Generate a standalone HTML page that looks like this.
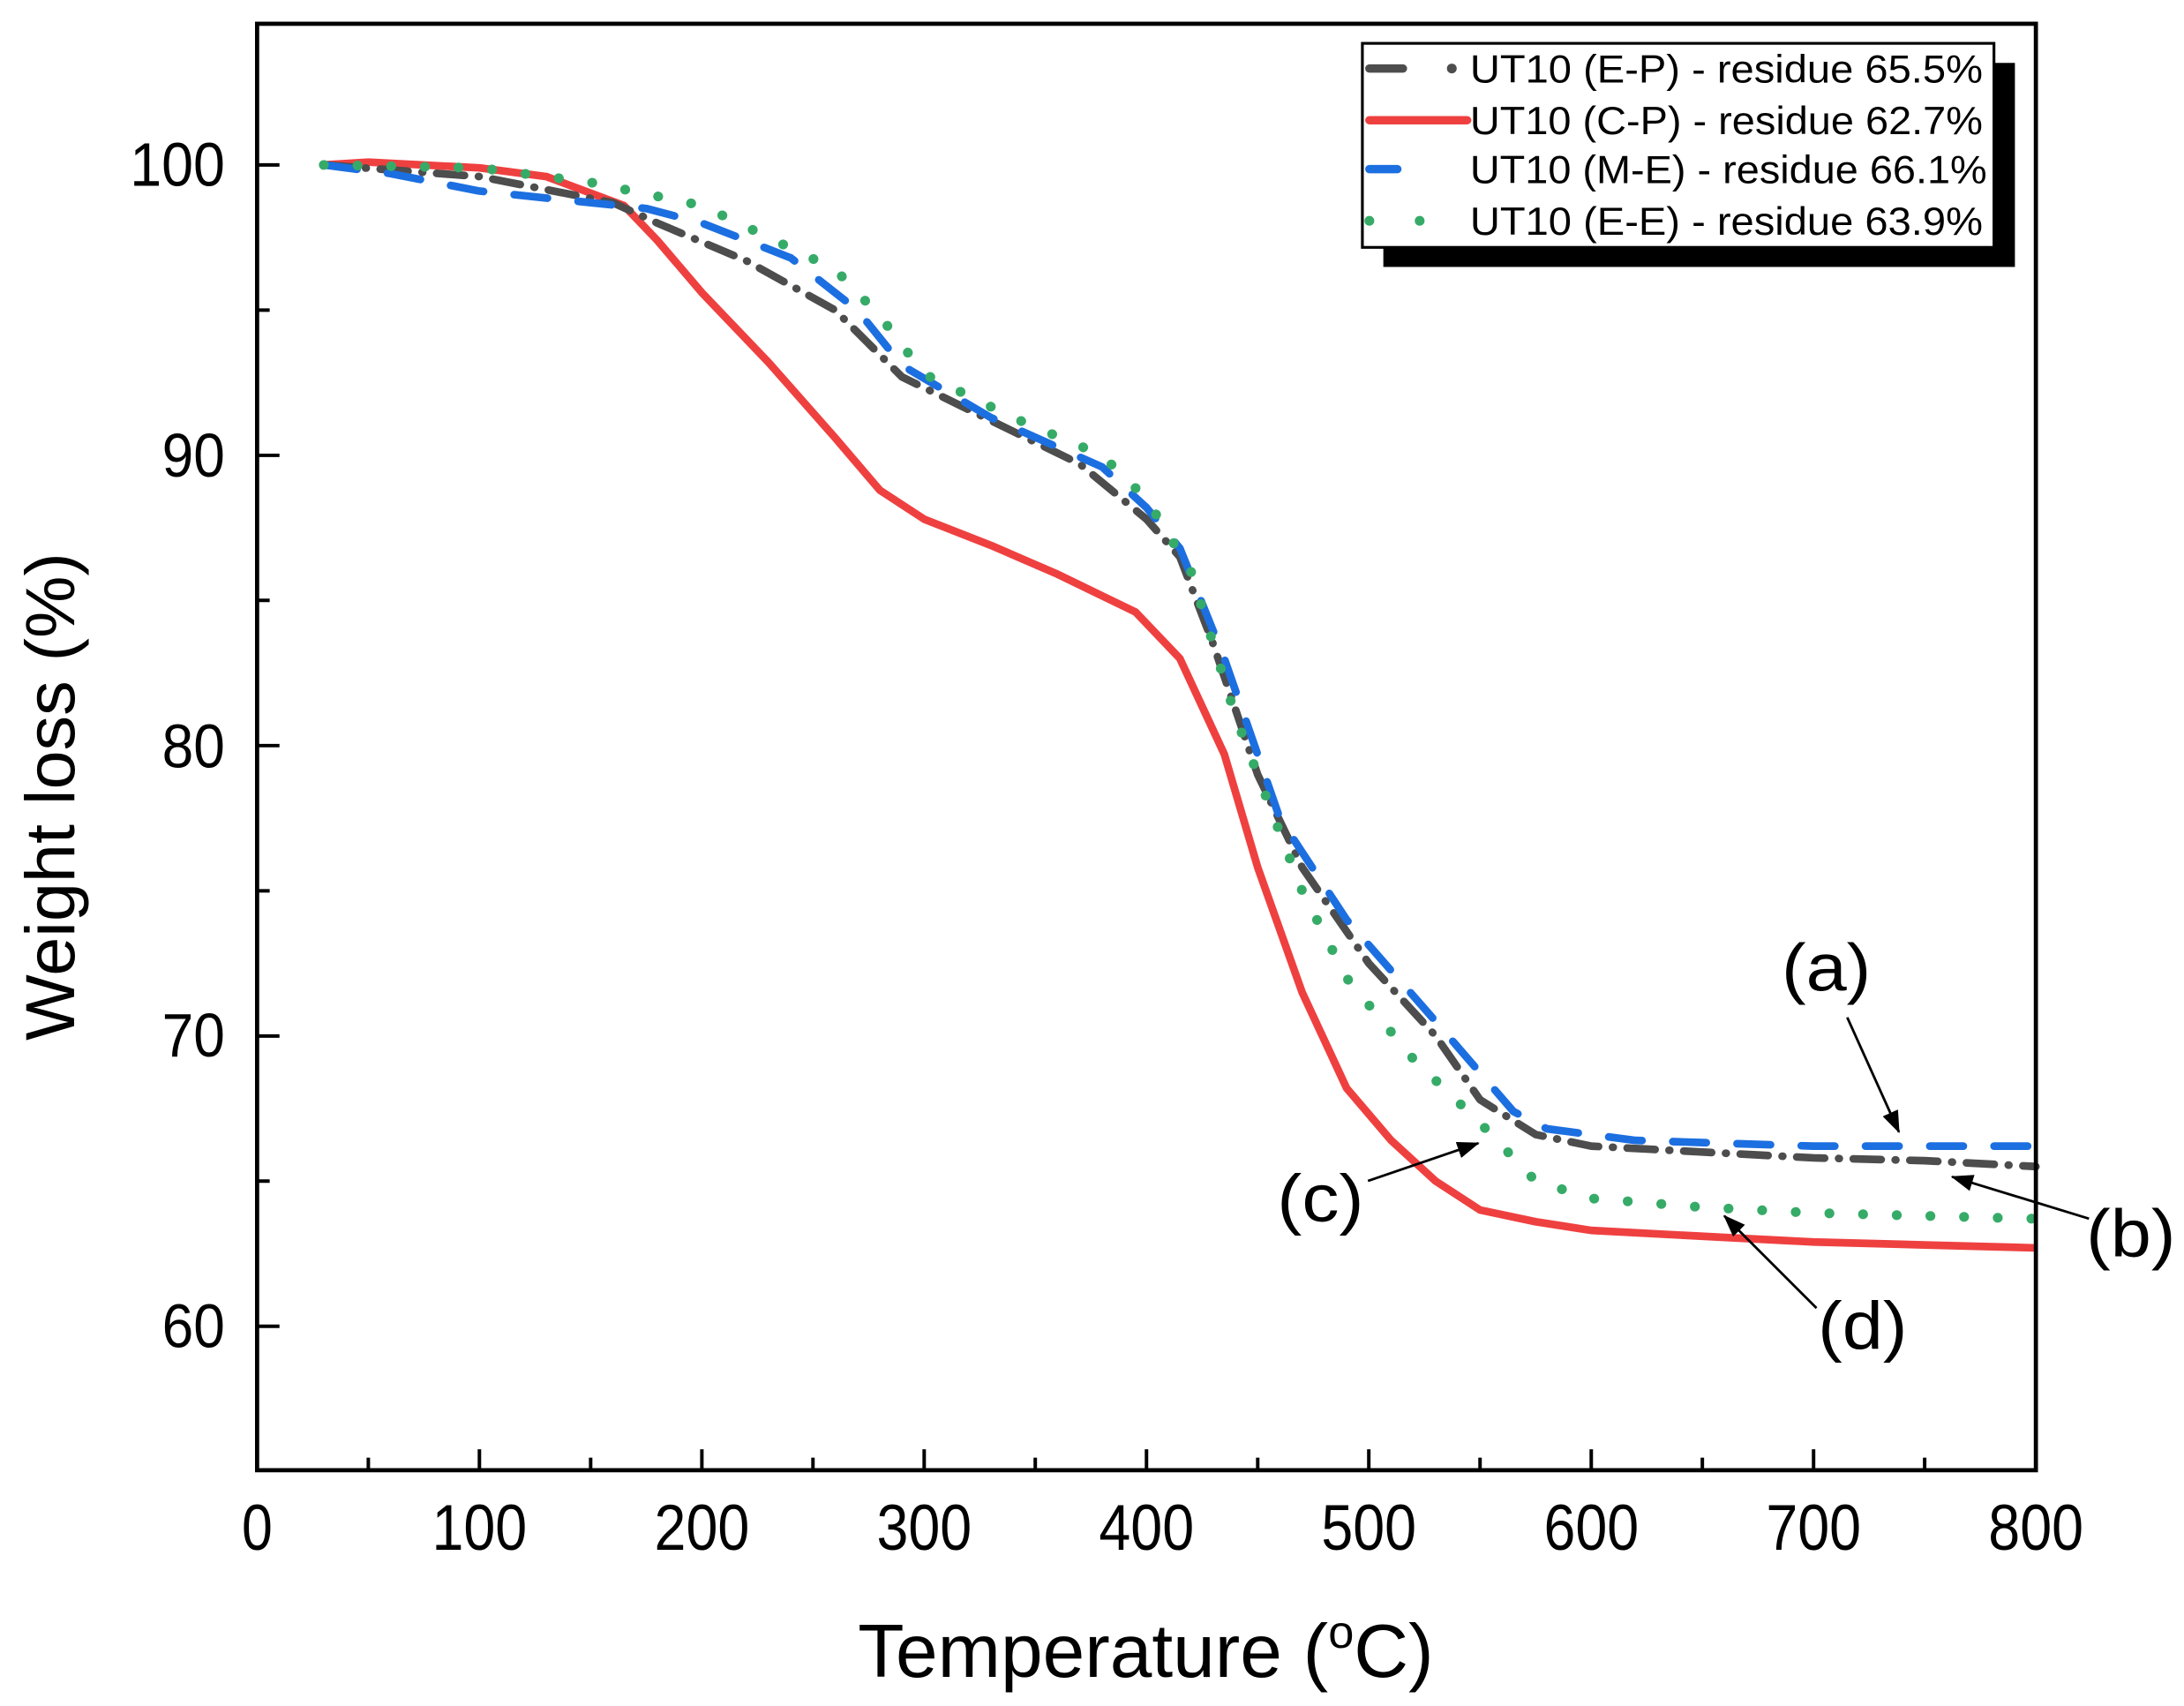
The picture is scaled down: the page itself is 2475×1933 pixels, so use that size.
<!DOCTYPE html>
<html><head><meta charset="utf-8"><style>html,body{margin:0;padding:0;background:#fff}svg{display:block}</style></head>
<body>
<svg width="2475" height="1933" viewBox="0 0 1563 1220.7" xmlns="http://www.w3.org/2000/svg" font-family="Liberation Sans, Arial, sans-serif">
<defs>
<marker id="ah" markerWidth="16" markerHeight="12" refX="15" refY="6" orient="auto" markerUnits="userSpaceOnUse" viewBox="0 0 16 12">
<path d="M0,0 L16,6 L0,12 Z" fill="#000"/></marker>
</defs>
<rect width="1563" height="1221" fill="#fff"/>
<g fill="none" stroke-linejoin="round">
<polyline stroke="#ef4040" stroke-width="5.5" points="231.7,118 263.6,116 343.1,120.1 390.9,126.3 446.6,147.1 470.4,172 502.3,209.4 550,259.3 597.7,313.3 629.6,350.7 661.4,371.5 709.1,390.2 756.9,410.9 812.6,437.9 844.4,471.2 876.2,539.7 900.1,620.7 931.9,710.1 963.7,778.6 995.6,816 1027.4,845.1 1059.2,865.8 1099,874.2 1138.8,880.4 1218.3,884.6 1297.9,888.7 1377.4,890.8 1457,892.9"/>
<polyline stroke="#4d4d4d" stroke-width="5.5" stroke-linecap="round" stroke-dasharray="20 10 0.5 10" points="231.7,118 343.1,126.3 438.6,145 470.4,159.6 534.1,186.6 597.7,221.9 645.5,269.7 709.1,300.9 772.8,332 820.5,371.5 844.4,398.5 868.2,460.8 900.1,554.3 931.9,620.7 979.6,689.3 1027.4,741.2 1059.2,786.9 1099,811.8 1138.8,820.1 1218.3,824.3 1297.9,828.5 1377.4,830.5 1457,834.7"/>
<polyline stroke="#1c6fe0" stroke-width="5.5" stroke-linecap="round" stroke-dasharray="24 22" points="231.7,118 279.5,124.2 343.1,136.7 422.7,145 462.5,149.2 502.3,159.6 565.9,184.5 613.6,221.9 645.5,261.4 709.1,298.8 788.7,334.1 820.5,363.2 844.4,392.3 876.2,471.2 915.9,585.5 963.7,658.1 1027.4,730.8 1083.1,795.3 1107,807.7 1170.6,816 1297.9,820.1 1457,820.1"/>
<polyline stroke="#36ab68" stroke-width="7" stroke-linecap="round" stroke-dasharray="0.1 24" points="231.7,118 343.1,120.1 422.7,130.5 502.3,147.1 550,169.9 597.7,192.8 629.6,226 661.4,267.6 725,298.8 788.7,325.8 820.5,356.9 852.3,408.9 884.2,512.7 908,575.1 931.9,637.4 963.7,699.7 1011.5,757.8 1059.2,803.5 1099,845.1 1138.8,857.5 1218.3,863.8 1297.9,867.9 1457,872.1"/>
</g>
<rect x="184" y="17" width="1273" height="1035" fill="none" stroke="#000" stroke-width="3"/>
<g stroke="#000" stroke-width="2.5">
<path d="M184,1052v-15M343.1,1052v-15M502.3,1052v-15M661.4,1052v-15M820.5,1052v-15M979.6,1052v-15M1138.8,1052v-15M1297.9,1052v-15M1457,1052v-15"/>
<path d="M263.6,1052v-9M422.7,1052v-9M581.8,1052v-9M740.9,1052v-9M900.1,1052v-9M1059.2,1052v-9M1218.3,1052v-9M1377.4,1052v-9"/>
<path d="M184,118h16M184,325.8h16M184,533.5h16M184,741.3h16M184,949h16"/>
<path d="M184,221.9h9M184,429.6h9M184,637.4h9M184,845.1h9"/>
</g>
<g font-size="46" fill="#000" text-anchor="middle">
<text x="184" y="1109" textLength="22" lengthAdjust="spacingAndGlyphs">0</text>
<text x="343.1" y="1109" textLength="68" lengthAdjust="spacingAndGlyphs">100</text>
<text x="502.3" y="1109" textLength="68" lengthAdjust="spacingAndGlyphs">200</text>
<text x="661.4" y="1109" textLength="68" lengthAdjust="spacingAndGlyphs">300</text>
<text x="820.5" y="1109" textLength="68" lengthAdjust="spacingAndGlyphs">400</text>
<text x="979.6" y="1109" textLength="68" lengthAdjust="spacingAndGlyphs">500</text>
<text x="1138.8" y="1109" textLength="68" lengthAdjust="spacingAndGlyphs">600</text>
<text x="1297.9" y="1109" textLength="68" lengthAdjust="spacingAndGlyphs">700</text>
<text x="1457" y="1109" textLength="68" lengthAdjust="spacingAndGlyphs">800</text>
</g>
<g font-size="44" fill="#000" text-anchor="end">
<text x="161" y="133" textLength="68" lengthAdjust="spacingAndGlyphs">100</text>
<text x="161" y="341" textLength="45" lengthAdjust="spacingAndGlyphs">90</text>
<text x="161" y="549" textLength="45" lengthAdjust="spacingAndGlyphs">80</text>
<text x="161" y="756" textLength="45" lengthAdjust="spacingAndGlyphs">70</text>
<text x="161" y="964" textLength="45" lengthAdjust="spacingAndGlyphs">60</text>
</g>
<text x="820" y="1200" font-size="54" text-anchor="middle" textLength="412" lengthAdjust="spacingAndGlyphs">Temperature (<tspan font-size="33" dy="-21">o</tspan><tspan dy="21">C)</tspan></text>
<text transform="translate(53,570) rotate(-90)" font-size="50" text-anchor="middle">Weight loss (%)</text>
<rect x="990" y="45" width="452" height="146" fill="#000"/>
<rect x="975" y="31" width="452" height="146" fill="#fff" stroke="#000" stroke-width="2"/>
<g stroke-linecap="round" stroke-width="6">
<path d="M980,49h24" stroke="#4d4d4d"/><circle cx="1039" cy="49" r="3.5" fill="#4d4d4d" stroke="none"/>
<path d="M980,86h70" stroke="#ef4040"/>
<path d="M980,121h20" stroke="#1c6fe0"/>
<circle cx="980" cy="158" r="3.5" fill="#36ab68" stroke="none"/><circle cx="1016" cy="158" r="3.5" fill="#36ab68" stroke="none"/>
</g>
<g font-size="28" fill="#000">
<text x="1052" y="59" textLength="367" lengthAdjust="spacingAndGlyphs">UT10 (E-P)  - residue 65.5%</text>
<text x="1052" y="96" textLength="367" lengthAdjust="spacingAndGlyphs">UT10 (C-P)  - residue 62.7%</text>
<text x="1052" y="131" textLength="370" lengthAdjust="spacingAndGlyphs">UT10 (M-E)  - residue 66.1%</text>
<text x="1052" y="168" textLength="367" lengthAdjust="spacingAndGlyphs">UT10 (E-E)  - residue 63.9%</text>
</g>
<g font-size="48" fill="#000" text-anchor="middle">
<text x="1307" y="709" textLength="64" lengthAdjust="spacingAndGlyphs">(a)</text>
<text x="1525" y="899" textLength="64" lengthAdjust="spacingAndGlyphs">(b)</text>
<text x="945" y="874" textLength="62" lengthAdjust="spacingAndGlyphs">(c)</text>
<text x="1333" y="965" textLength="64" lengthAdjust="spacingAndGlyphs">(d)</text>
</g>
<g stroke="#000" stroke-width="1.8" marker-end="url(#ah)">
<line x1="1322" y1="728" x2="1359" y2="810"/>
<line x1="1495" y1="872" x2="1397" y2="842"/>
<line x1="979" y1="845" x2="1058" y2="818"/>
<line x1="1300" y1="936" x2="1234" y2="870"/>
</g>
</svg>
</body></html>
